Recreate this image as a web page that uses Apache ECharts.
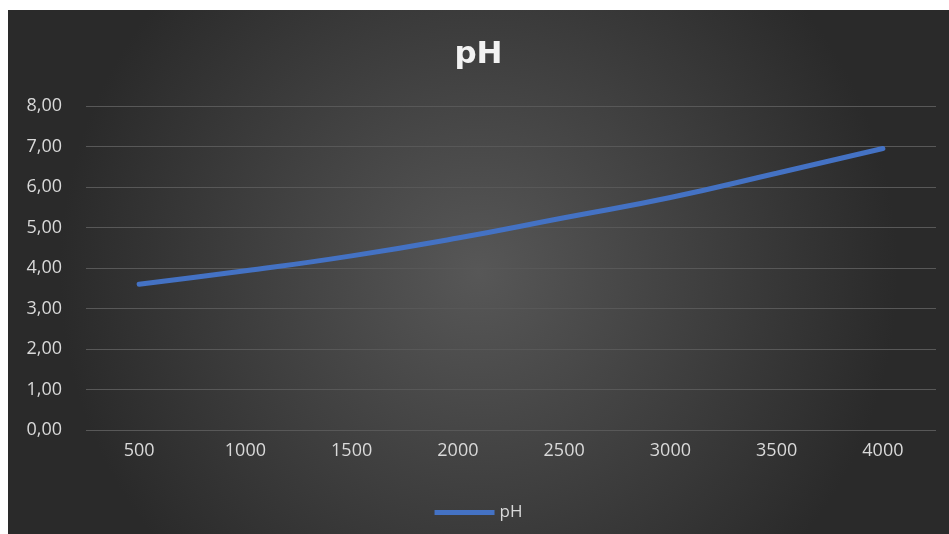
<!DOCTYPE html>
<html>
<head>
<meta charset="utf-8">
<script src="https://cdn.jsdelivr.net/npm/echarts@6/dist/echarts.min.js"></script>
<style>
html,body{margin:0;padding:0;background:#ffffff;width:949px;height:534px;overflow:hidden;}
#chart{position:absolute;left:8px;top:10px;width:941px;height:524px;}
</style>
</head>
<body>
<div id="chart"></div>
<script>
const categories = ['500','1000','1500','2000','2500','3000','3500','4000'];
const phValues = [3.60, 3.93, 4.30, 4.74, 5.24, 5.74, 6.34, 6.95];
const seriesName = 'pH';
const titleText = 'pH';

const chart = echarts.init(document.getElementById('chart'));
chart.setOption({
  backgroundColor: {
    type: 'radial', x: 0.5, y: 0.5, r: 0.8,
    colorStops: [{offset: 0, color: '#575757'}, {offset: 1, color: '#2a2a2a'}]
  },
  animation: false,
  title: {
    text: titleText, left: 'center', top: 24,
    textStyle: {color: '#f2f2f2', fontSize: 31, fontWeight: 'bold', fontFamily: 'DejaVu Sans'}
  },
  legend: {
    bottom: 8, left: 'center',
    itemWidth: 60, itemHeight: 5, itemGap: 0,
    icon: 'rect',
    textStyle: {color: '#d9d9d9', fontSize: 17, fontFamily: 'Open Sans', padding: [0,0,0,0]},
    data: [seriesName]
  },
  grid: {left: 78, right: 13, top: 96, bottom: 104, containLabel: false},
  xAxis: {
    type: 'category', data: categories, boundaryGap: true,
    axisLine: {show: false}, axisTick: {show: false},
    axisLabel: {color: '#d9d9d9', fontSize: 18, fontFamily: 'Open Sans', margin: 12}
  },
  yAxis: {
    type: 'value', min: 0, max: 8, interval: 1,
    axisLine: {show: false}, axisTick: {show: false},
    splitLine: {lineStyle: {color: '#585858', width: 1}},
    axisLabel: {color: '#d9d9d9', fontSize: 18, fontFamily: 'Open Sans', margin: 24,
      formatter: v => v.toFixed(2).replace('.', ',')}
  },
  series: [{
    name: seriesName, type: 'line', data: phValues, smooth: true,
    showSymbol: false, symbol: 'none',
    lineStyle: {color: '#4472c4', width: 5, cap: 'round'},
    itemStyle: {color: '#4472c4'}
  }]
});
</script>
</body>
</html>
